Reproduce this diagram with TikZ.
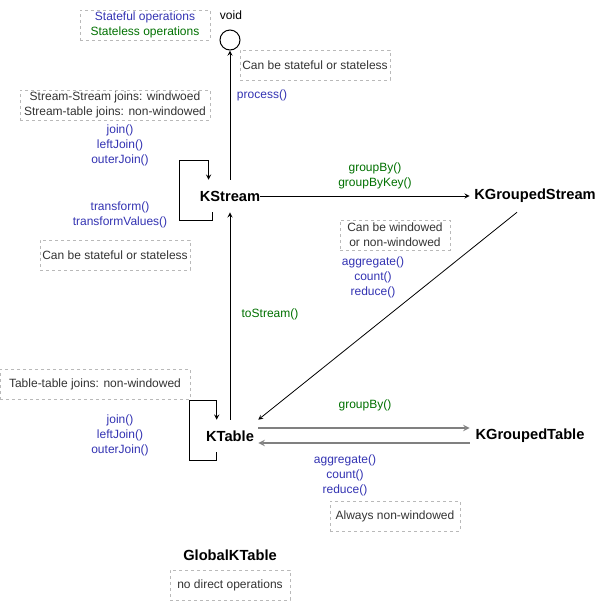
\documentclass[tikz,border=0pt]{standalone}
\usepackage{fontspec}
\setmainfont{Liberation Sans}
\usepackage{tikz}
\usetikzlibrary{arrows}

\definecolor{stateful}{RGB}{51,51,178}
\definecolor{stateless}{RGB}{0,112,0}
\definecolor{notetext}{RGB}{51,51,51}
\definecolor{noteline}{RGB}{185,185,185}

\begin{document}
\begin{tikzpicture}[x=0.75pt, y=-0.75pt, font=\fontsize{9}{11.25}\selectfont]
    \tikzstyle{stream} = [rectangle, minimum height=24pt, inner sep=0pt, font=\fontsize{11}{12}\selectfont\bfseries, text centered]
    \tikzstyle{note} = [rectangle, draw=noteline, dash pattern=on 2.25pt off 2.25pt, minimum height=22.5pt, text=notetext, align=center, inner sep=1pt]
    \tikzstyle{ops} = [align=center, text=stateful, inner sep=1pt]
    \tikzstyle{noops} = [align=center, text=stateless, inner sep=1pt]
    \tikzstyle{arrow} = [line width=0.75pt,->,>=stealth]
    \tikzstyle{grayarrow} = [line width=1.2pt,draw=black!50,->,>=stealth]

    \useasboundingbox (0,0) rectangle (601,601);

    % legend and sink
    \node (legend) [note, minimum width=97.5pt] at (145,25) {{\color{stateful}Stateful operations}\\{\color{stateless}Stateless operations}};
    \node (void) [circle, draw, line width=0.75pt, minimum size=15pt, inner sep=0pt] at (230,40) {};
    \node (voidlbl) at (231,15) {void};
    \node (procnote) [note, minimum width=112.5pt] at (315,65) {Can be stateful or stateless};
    \node (process) [ops] at (262,95) {process()};

    % streams
    \node (ks) [stream, minimum width=45pt] at (230,196) {KStream};
    \node (kgs) [stream, minimum width=97.5pt] at (535,196) {KGroupedStream};
    \node (kt) [stream, minimum width=42pt] at (230,436) {KTable};
    \node (kgt) [stream, minimum width=90pt] at (530,436) {KGroupedTable};
    \node (gkt) [stream] at (230,555) {GlobalKTable};

    % notes and operations on KStream
    \node (joinnote) [note, minimum width=142.5pt] at (115,105) {Stream-Stream joins: windwoed\\Stream-table joins: non-windowed};
    \node (ksjoins) [ops] at (120,145) {join()\\leftJoin()\\outerJoin()};
    \node (transform) [ops] at (120,215) {transform()\\transformValues()};
    \node (transnote) [note, minimum width=112.5pt] at (115,255) {Can be stateful or stateless};
    \node (groupby) [noops] at (375,176) {groupBy()\\groupByKey()};
    \node (winnote) [note, minimum width=82.5pt] at (395,235) {Can be windowed\\or non-windowed};
    \node (ksagg) [ops] at (373,277) {aggregate()\\count()\\reduce()};
    \node (tostream) [noops] at (270,314) {toStream()};

    % notes and operations on KTable
    \node (tjoinnote) [note, minimum width=142.5pt] at (95,384) {Table-table joins: non-windowed};
    \node (ktjoins) [ops] at (120,435) {join()\\leftJoin()\\outerJoin()};
    \node (tgroupby) [noops] at (365,405) {groupBy()};
    \node (ktagg) [ops] at (345,475) {aggregate()\\count()\\reduce()};
    \node (alwaysnote) [note, minimum width=97.5pt] at (395,516) {Always non-windowed};
    \node (gktnote) [note, minimum width=90pt] at (230,585) {no direct operations};

    \draw [arrow] (ks) -- (void);
    \draw [arrow] ([xshift=10pt]ks.south west) -- ++(0,8) -| ++(-33,-60) -| ([xshift=6.75pt]ks.north west);
    \draw [arrow] (ks) -- (kgs);
    \draw [arrow, line width=0.6pt] ([xshift=-13.5pt]kgs.south) -- (kt.north east);
    \draw [arrow] (kt) -- (ks);
    \draw [arrow] ([xshift=11.25pt]kt.south west) -- ++(0,8) -| ++(-27,-60) -| ([xshift=11.25pt]kt.north west);
    \draw [grayarrow] ([yshift=6pt]kt.east) -- ([yshift=6pt]kgt.west);
    \draw [grayarrow] ([yshift=-5.25pt]kgt.west) -- ([yshift=-5.25pt]kt.east);
\end{tikzpicture}
\end{document}
